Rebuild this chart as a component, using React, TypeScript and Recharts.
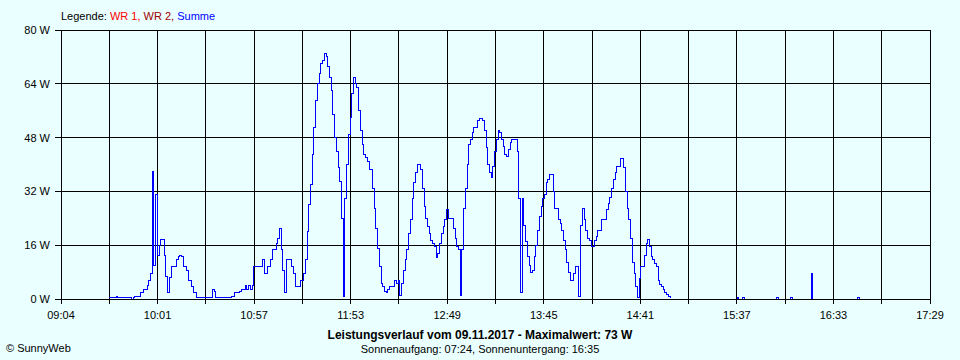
import React from 'react';
import { LineChart, Line, XAxis, YAxis, CartesianGrid } from 'recharts';

// axis labels
const xLabels = ['09:04', '10:01', '10:57', '11:53', '12:49', '13:45', '14:41', '15:37', '16:33', '17:29'];
const yTicks = [0, 16, 32, 48, 64, 80];

// Summe, one reading per minute from summeStart
const summeStart = '09:32';
const summeWatt = [
  0.5, 0.3, 0.5, 0.3, 0.6, 0.3, 0.5, 0.3, 0.5, 0.3,
  0.5, 0.3, 0.5, 0, 0.3, 0.7, 0.7, 0.7, 1.8, 1.8,
  2.7, 2.7, 3.9, 5.6, 7.7, 38, 10, 31, 13, 16,
  17.7, 17.7, 13, 6.6, 1.8, 6.5, 9.6, 9.6, 9.6, 11.6,
  12.6, 12.9, 12.6, 9.6, 9.6, 8.6, 5.6, 5.6, 3.7, 1.8,
  1.8, 0.5, 0.5, 0.5, 0.5, 0.5, 0.5, 0.5, 0.5, 0.5,
  2.7, 2.2, 0.3, 0.3, 0.5, 0.3, 0.3, 0.3, 0.3, 0.5,
  0.5, 0.6, 0.6, 1.9, 1.9, 1.9, 2.2, 2.7, 2.7, 3.9,
  2.7, 3.9, 2.7, 3.9, 9.6, 9.6, 9.6, 9.6, 9.6, 11.8,
  7.6, 7.6, 9.6, 9.6, 11.6, 14.6, 14.6, 16.6, 18, 21,
  14.6, 8.6, 1.8, 11.6, 11.6, 11.6, 9.6, 7.7, 3.7, 3.7,
  3.7, 5.6, 5.6, 7.7, 11.6, 20, 28, 34, 43, 51,
  59, 64, 67, 70, 71, 73, 72, 69, 66, 62,
  55, 48, 44, 39, 35, 24, 0.7, 30, 40, 49,
  54, 61, 66, 64, 63, 56, 50, 46, 43, 42,
  41, 38.4, 38.4, 33, 27, 21, 15, 9.6, 4.5, 3.7,
  2.1, 1.8, 2.7, 3.7, 3.7, 3.7, 5.6, 4.5, 5.6, 1,
  4.7, 8.6, 11.6, 14.6, 19.5, 23.5, 30, 34.5, 37.5, 40,
  40, 38.4, 33, 27.4, 24, 21.5, 19.6, 17.5, 16.6, 15.5,
  12.2, 13.5, 16.6, 19.6, 21.5, 23.5, 26.5, 24, 24, 24,
  21, 18, 15.5, 14.6, 1, 14.6, 27, 33, 40, 46,
  47.5, 49.4, 50.9, 51, 53, 53.8, 53.8, 53, 50, 45,
  40, 37.5, 36, 39.3, 44, 47.3, 50, 49.5, 47.3, 45.5,
  43, 42.5, 44.5, 46.4, 47.3, 47.3, 47.3, 44, 30, 1.8,
  30, 22, 17, 12.6, 10, 8, 8.5, 12.6, 16, 20.5,
  24.4, 27.4, 30, 31, 34.5, 35.4, 36.9, 36.9, 32, 27,
  27, 23.5, 22.6, 20.5, 17.5, 14.6, 11, 8, 5.6, 5.6,
  7.7, 9.6, 9.6, 0.6, 22, 26.8, 23.5, 20.5, 18.1, 17.5,
  15.5, 15.5, 17.5, 18.5, 20.5, 20.5, 23.5, 23.5, 23.5, 26.5,
  28.5, 30.3, 33, 35.4, 37.5, 39.3, 39.3, 41.8, 41.8, 39,
  32, 27, 23.5, 18, 11, 7.7, 3.7, 0.3, 6, 9.6,
  9.6, 13, 16.6, 17.7, 15.5, 12.6, 11.6, 10.7, 9.6, 5.6,
  4.2, 3.7, 2.7, 1.8, 1.2, 0.6, 0.3,
];

// short blips late in the afternoon
const spikeTimes = ['15:37', '15:40', '16:00', '16:08', '16:20', '16:47'];
const spikeWatt = [0.5, 0.5, 0.5, 0.5, 7.6, 0.5];

const toMin = (s: string) => {
  const [h, m] = s.split(':').map(Number);
  return h * 60 + m;
};

const xMin = toMin(xLabels[0]);
const xMax = toMin(xLabels[xLabels.length - 1]);
const steps = (xLabels.length - 1) * 2;
const xTicks = Array.from({ length: steps + 1 }, (_, i) => xMin + (i * (xMax - xMin)) / steps);

const data: { t: number; w: number | null }[] = summeWatt.map((w, i) => ({ t: toMin(summeStart) + i, w }));
spikeTimes.forEach((s, i) => {
  const t = toMin(s);
  data.push({ t, w: null }, { t, w: 0 }, { t, w: spikeWatt[i] }, { t: t + 1, w: spikeWatt[i] }, { t: t + 1, w: 0 });
});

const font = '"Liberation Sans", Arial, sans-serif';

export default function App() {
  return (
    <div
      style={{
        position: 'absolute',
        left: 0,
        top: 0,
        width: 960,
        height: 360,
        background: '#eaffff',
        fontFamily: font,
        color: '#000',
      }}
    >
      <style>{'svg line, svg path { shape-rendering: crispEdges; }'}</style>
      <div style={{ position: 'absolute', left: 61, top: 10, fontSize: 11 }}>
        Legende: <span style={{ color: '#ff0000' }}>WR 1,</span>{' '}
        <span style={{ color: '#a00000' }}>WR 2,</span> <span style={{ color: '#0000ff' }}>Summe</span>
      </div>
      <LineChart width={960} height={360} data={data} margin={{ top: 30, right: 30, left: 1, bottom: 31 }}>
        <CartesianGrid stroke="#000" vertical horizontal />
        <XAxis
          dataKey="t"
          type="number"
          domain={[xMin, xMax]}
          ticks={xTicks}
          interval={0}
          tickFormatter={(v: number, i: number) => (i % 2 === 0 ? xLabels[i / 2] : '')}
          stroke="#000"
          tickSize={5}
          tickMargin={7}
          tick={{ fill: '#000', fontSize: 11, fontFamily: font }}
          height={30}
        />
        <YAxis
          domain={[0, 80]}
          ticks={yTicks}
          interval={0}
          tickFormatter={(v: number) => `${v} W`}
          stroke="#000"
          tickSize={6}
          tickMargin={5}
          tick={{ fill: '#000', fontSize: 11, fontFamily: font }}
          width={60}
        />
        <Line
          dataKey="w"
          type="stepAfter"
          stroke="#0000ff"
          strokeWidth={1}
          dot={false}
          isAnimationActive={false}
          connectNulls={false}
        />
      </LineChart>
      <div
        style={{
          position: 'absolute',
          left: 0,
          width: 960,
          top: 328,
          textAlign: 'center',
          fontSize: 12,
          fontWeight: 'bold',
        }}
      >
        Leistungsverlauf vom 09.11.2017 - Maximalwert: 73 W
      </div>
      <div style={{ position: 'absolute', left: 0, width: 960, top: 343, textAlign: 'center', fontSize: 11 }}>
        Sonnenaufgang: 07:24, Sonnenuntergang: 16:35
      </div>
      <div style={{ position: 'absolute', left: 6, top: 342, fontSize: 11 }}>© SunnyWeb</div>
    </div>
  );
}
